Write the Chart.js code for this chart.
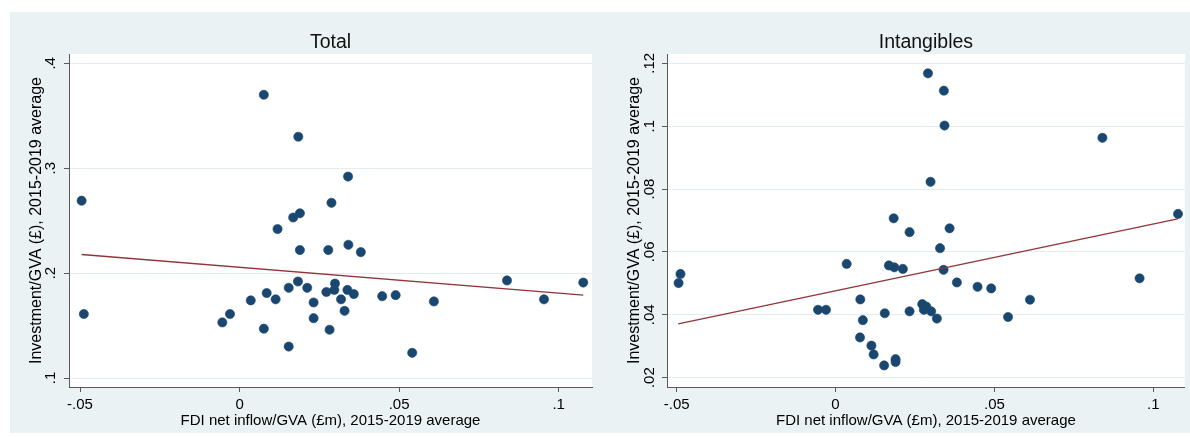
<!DOCTYPE html>
<html>
<head>
<meta charset="utf-8">
<script src="https://cdn.jsdelivr.net/npm/chart.js@4/dist/chart.umd.min.js"></script>
<style>
  html, body { margin: 0; padding: 0; background: #ffffff; overflow: hidden; }
  #bg { position: absolute; left: 10px; top: 12px; width: 1180px; height: 421px; background: #eaf2f3; }
  #w1 { position: absolute; left: 0; top: 0; width: 598px; height: 437px; }
  #w2 { position: absolute; left: 598px; top: 0; width: 592px; height: 437px; }
  canvas { display: block; }
</style>
</head>
<body>
<div id="bg"></div>
<div id="w1"><canvas id="c1" width="598" height="437"></canvas></div>
<div id="w2"><canvas id="c2" width="592" height="437"></canvas></div>
<script>
// ---- data ----
const totalX = [-0.0495,-0.0488,-0.0054,-0.0030,0.0035,0.0076,0.0076,0.0085,0.0113,0.0119,0.0154,0.0154,0.0168,0.0183,0.0184,0.0189,0.0189,0.0212,0.0232,0.0232,0.0272,0.0278,0.0282,0.0288,0.0297,0.0299,0.0318,0.0329,0.0338,0.0340,0.0341,0.0358,0.0380,0.0447,0.0489,0.0541,0.0609,0.0838,0.0954,0.1077];
const totalY = [0.269,0.161,0.153,0.161,0.174,0.370,0.147,0.181,0.175,0.242,0.186,0.130,0.253,0.192,0.330,0.257,0.222,0.186,0.172,0.157,0.182,0.222,0.146,0.267,0.184,0.190,0.175,0.164,0.184,0.292,0.227,0.180,0.220,0.178,0.179,0.124,0.173,0.193,0.175,0.191];

const intangX = [-0.0494,-0.0488,-0.0055,-0.0030,0.0035,0.0077,0.0078,0.0086,0.0113,0.0120,0.0153,0.0155,0.0168,0.0183,0.0185,0.0189,0.0189,0.0212,0.0233,0.0233,0.0273,0.0278,0.0286,0.0291,0.0299,0.0301,0.0319,0.0329,0.0340,0.0341,0.0343,0.0359,0.0382,0.0447,0.0490,0.0543,0.0612,0.0840,0.0957,0.1078];
const intangY = [0.0501,0.0530,0.0416,0.0416,0.0562,0.0328,0.0449,0.0383,0.0302,0.0274,0.0239,0.0405,0.0557,0.0707,0.0551,0.0259,0.0250,0.0546,0.0663,0.0411,0.0434,0.0416,0.0426,0.1168,0.0823,0.0411,0.0388,0.0612,0.0543,0.1113,0.1002,0.0675,0.0503,0.0489,0.0484,0.0393,0.0448,0.0963,0.0516,0.0721];

// linear fit endpoints (x at min/max of data)
const fitX = [-0.0495, 0.1077];
const totalFitY = [0.2178, 0.1790];
const intangFitY = [0.0371, 0.0705];

const xTicks = [-0.05, 0, 0.05, 0.1];
const xTickLabels = ['-.05', '0', '.05', '.1'];
const totalYTicks = [0.1, 0.2, 0.3, 0.4];
const totalYTickLabels = ['.1', '.2', '.3', '.4'];
const intangYTicks = [0.02, 0.04, 0.06, 0.08, 0.1, 0.12];
const intangYTickLabels = ['.02', '.04', '.06', '.08', '.1', '.12'];

const xTitle = 'FDI net inflow/GVA (£m), 2015-2019 average';
const yTitle = 'Investment/GVA (£), 2015-2019 average';

// ---- rendering ----
const FAMILY = "'Liberation Sans', Arial, Helvetica, sans-serif";
const NAVY = '#1a476f';
const MAROON = 'rgb(144,53,59)';
const AXIS = '#5a5a5a';
const GRID = '#e3edf0';

const plotBg = {
  id: 'plotBg',
  beforeDraw(chart) {
    const { ctx, chartArea: a } = chart;
    ctx.save();
    ctx.fillStyle = '#ffffff';
    ctx.fillRect(a.left, a.top, a.right - a.left, a.bottom - a.top);
    ctx.restore();
  }
};

const panelTitle = {
  id: 'panelTitle',
  afterDraw(chart, args, opts) {
    const { ctx, chartArea: a } = chart;
    ctx.save();
    ctx.font = opts.size + 'px ' + FAMILY;
    ctx.fillStyle = '#111';
    ctx.textAlign = 'center';
    ctx.textBaseline = 'alphabetic';
    ctx.fillText(opts.text, (a.left + a.right) / 2, opts.baseline);
    ctx.restore();
  }
};

function makePanel(id, cfg) {
  const pts = cfg.xs.map((x, i) => ({ x: x, y: cfg.ys[i] }));
  const fit = fitX.map((x, i) => ({ x: x, y: cfg.fitY[i] }));
  return new Chart(document.getElementById(id), {
    type: 'scatter',
    data: {
      datasets: [
        {
          type: 'line',
          data: fit,
          borderColor: MAROON,
          borderWidth: 1.4,
          pointRadius: 0,
          fill: false
        },
        {
          data: pts,
          backgroundColor: NAVY,
          borderColor: NAVY,
          borderWidth: 0.6,
          pointRadius: 4.6,
          pointHoverRadius: 4.6
        }
      ]
    },
    options: {
      responsive: false,
      animation: false,
      devicePixelRatio: 1,
      events: [],
      layout: { padding: { left: 0, right: cfg.padRight, top: 54, bottom: 0 } },
      plugins: {
        legend: { display: false },
        tooltip: { enabled: false },
        panelTitle: { text: cfg.title, size: 19.5, baseline: 48 }
      },
      scales: {
        x: {
          type: 'linear',
          position: 'bottom',
          min: cfg.xMin,
          max: cfg.xMax,
          afterBuildTicks: (s) => { s.ticks = xTicks.map(v => ({ value: v })); },
          afterFit: (s) => { s.height = 50; },
          grid: { drawOnChartArea: false, drawTicks: true, tickLength: 5, tickColor: AXIS, tickWidth: 1 },
          border: { display: true, color: AXIS, width: 1 },
          ticks: {
            callback: (v, i) => xTickLabels[i],
            color: '#000',
            font: { family: FAMILY, size: 15 },
            padding: 4,
            minRotation: 0, maxRotation: 0, autoSkip: false
          },
          title: {
            display: true, text: xTitle, color: '#000',
            font: { family: FAMILY, size: 15 },
            padding: { top: 0, bottom: 7 }
          }
        },
        y: {
          type: 'linear',
          position: 'left',
          min: cfg.yMin,
          max: cfg.yMax,
          afterBuildTicks: (s) => { s.ticks = cfg.yTicks.map(v => ({ value: v })); },
          afterFit: (s) => { s.width = 69; },
          grid: { color: GRID, lineWidth: 1, drawTicks: true, tickLength: 5, tickColor: AXIS, tickWidth: 1 },
          border: { display: true, color: AXIS, width: 1 },
          ticks: {
            callback: (v, i) => cfg.yLabels[i],
            color: '#000',
            font: { family: FAMILY, size: 15 },
            minRotation: 90, maxRotation: 90,
            crossAlign: 'center',
            padding: cfg.yTickPad,
            autoSkip: false
          },
          title: {
            display: true, text: yTitle, color: '#000',
            font: { family: FAMILY, size: 16 },
            padding: { top: 26.5, bottom: 0 }
          }
        }
      }
    },
    plugins: [plotBg, panelTitle]
  });
}

makePanel('c1', {
  xs: totalX, ys: totalY, fitY: totalFitY,
  yTicks: totalYTicks, yLabels: totalYTickLabels,
  xMin: -0.05345, xMax: 0.11044, yMin: 0.09143, yMax: 0.40886,
  yTickPad: 6.5, padRight: 6, title: 'Total'
});

makePanel('c2', {
  xs: intangX, ys: intangY, fitY: intangFitY,
  yTicks: intangYTicks, yLabels: intangYTickLabels,
  xMin: -0.05304, xMax: 0.10993, yMin: 0.01704, yMax: 0.12296,
  yTickPad: 1.5, padRight: 3, title: 'Intangibles'
});
</script>
</body>
</html>
